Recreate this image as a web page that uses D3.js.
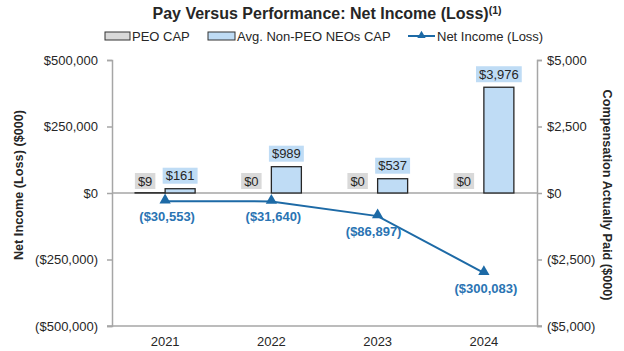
<!DOCTYPE html>
<html>
<head>
<meta charset="utf-8">
<script src="https://cdn.jsdelivr.net/npm/d3@7"></script>
<style>
  body { margin: 0; background: #fff; }
  text { font-family: "Liberation Sans", Arial, sans-serif; }
</style>
</head>
<body>
<svg id="paper"></svg>
<script>
let years = ["2021", "2022", "2023", "2024"];
let peoCap = [9, 0, 0, 0];
let neoCap = [161, 989, 537, 3976];
let netIncome = [-30553, -31640, -86897, -300083];
let leftTicks = [-500000, -250000, 0, 250000, 500000];
let rightTicks = [-5000, -2500, 0, 2500, 5000];

let width = 624, height = 351;
let margin = {top: 60, right: 87, bottom: 25, left: 112};
let lineColor = "#1d6aa6", labelBlue = "#2a74b3";
let grayFill = "#d9d9d9", blueFill = "#bfdcf5";
let axisColor = "#a6a6a6", textColor = "#262626";

let svg = d3.select("#paper").attr("width", width).attr("height", height);

let x = d3.scaleBand().domain(years)
    .range([margin.left, width - margin.right]);
let yL = d3.scaleLinear().domain([-500000, 500000])
    .range([height - margin.bottom, margin.top]);
let yR = d3.scaleLinear().domain([-5000, 5000])
    .range([height - margin.bottom, margin.top]);

let money = v => v < 0 ? "($" + d3.format(",")(-v) + ")" : "$" + d3.format(",")(v);

// title
let title = svg.append("text")
    .attr("x", 327).attr("y", 19)
    .attr("text-anchor", "middle")
    .style("font-size", "16px").style("font-weight", "bold").attr("fill", textColor);
title.append("tspan").text("Pay Versus Performance: Net Income (Loss)");
title.append("tspan").attr("dy", -5).style("font-size", "10.5px").text("(1)");

// legend
let lg = svg.append("g").style("font-size", "13px");
lg.append("rect").attr("x", 105).attr("y", 32).attr("width", 25).attr("height", 8)
    .attr("fill", grayFill).attr("stroke", "#333");
lg.append("text").attr("x", 132).attr("y", 41).attr("fill", textColor).text("PEO CAP");
lg.append("rect").attr("x", 208).attr("y", 32).attr("width", 27).attr("height", 8)
    .attr("fill", blueFill).attr("stroke", "#333");
lg.append("text").attr("x", 237).attr("y", 41).attr("fill", textColor).text("Avg. Non-PEO NEOs CAP");
lg.append("line").attr("x1", 408).attr("x2", 435).attr("y1", 36).attr("y2", 36)
    .attr("stroke", lineColor).attr("stroke-width", 2);
lg.append("path").attr("d", d3.symbol(d3.symbolTriangle, 30)())
    .attr("transform", "translate(421.5,35.5)").attr("fill", lineColor);
lg.append("text").attr("x", 437).attr("y", 41).attr("fill", textColor).text("Net Income (Loss)");

// axes
let leftAxis = svg.append("g")
    .attr("transform", "translate(" + margin.left + ",0)")
    .call(d3.axisLeft(yL).tickValues(leftTicks).tickFormat(money).tickSizeOuter(0).tickSize(5).tickPadding(9));
let rightAxis = svg.append("g")
    .attr("transform", "translate(" + (width - margin.right) + ",0)")
    .call(d3.axisRight(yR).tickValues(rightTicks).tickFormat(money).tickSizeOuter(0).tickSize(5).tickPadding(5));
[leftAxis, rightAxis].forEach(a => {
    a.select(".domain").attr("stroke", axisColor).attr("stroke-width", 1.5);
    a.selectAll(".tick line").attr("stroke", axisColor).attr("stroke-width", 1.5);
    a.selectAll(".tick text").attr("fill", textColor).style("font-size", "13px")
        .style("font-family", "'Liberation Sans', Arial, sans-serif");
});

// zero line and bottom line
[0, -500000].forEach(v => {
    svg.append("line")
        .attr("x1", margin.left - (v === 0 ? 0 : 5)).attr("x2", width - margin.right + (v === 0 ? 0 : 5))
        .attr("y1", yL(v)).attr("y2", yL(v))
        .attr("stroke", axisColor).attr("stroke-width", 1.5);
});

let xAxis = svg.append("g")
    .attr("transform", "translate(0," + (height - margin.bottom) + ")")
    .call(d3.axisBottom(x).tickSize(0).tickPadding(11));
xAxis.select(".domain").remove();
xAxis.selectAll(".tick text").attr("fill", textColor).style("font-size", "13px")
    .style("font-family", "'Liberation Sans', Arial, sans-serif");

// axis titles
svg.append("text")
    .attr("transform", "translate(23,185) rotate(-90)")
    .attr("text-anchor", "middle").style("font-size", "12.7px").style("font-weight", "bold")
    .attr("fill", textColor).text("Net Income (Loss) ($000)");
svg.append("text")
    .attr("transform", "translate(603,195) rotate(90)")
    .attr("text-anchor", "middle").style("font-size", "12.7px").style("font-weight", "bold")
    .attr("fill", textColor).text("Compensation Actually Paid ($000)");

// bars
let barW = 30;
let sub = d3.scaleBand().domain(["peo", "neo"]).range([-barW, barW]);
let barData = [];
years.forEach((yr, i) => {
    barData.push({year: yr, key: "peo", value: peoCap[i]});
    barData.push({year: yr, key: "neo", value: neoCap[i]});
});
svg.append("g").selectAll("rect")
    .data(barData)
    .enter()
    .append("rect")
    .attr("x", d => x(d.year) + x.bandwidth() / 2 + sub(d.key))
    .attr("y", d => yR(d.value))
    .attr("width", sub.bandwidth())
    .attr("height", d => yR(0) - yR(d.value))
    .attr("fill", d => d.key === "peo" ? grayFill : blueFill)
    .attr("stroke", "#262626")
    .attr("stroke-width", 1.3);

// bar labels with boxes
let labels = svg.append("g").style("font-size", "13px");
barData.forEach(d => {
    let cx = x(d.year) + x.bandwidth() / 2 + sub(d.key) + sub.bandwidth() / 2 + (d.key === "peo" ? -5 : 0);
    let cy = d.key === "peo" ? yR(0) - 12 : yR(d.value) - 13;
    let t = labels.append("text").attr("x", cx).attr("y", cy + 4.5)
        .attr("text-anchor", "middle").attr("fill", textColor).text(money(d.value));
    let w = t.node().getComputedTextLength();
    labels.insert("rect", "text")
        .attr("x", cx - w / 2 - 3).attr("y", cy - 8)
        .attr("width", w + 6).attr("height", 16)
        .attr("fill", d.key === "peo" ? grayFill : blueFill);
});

// line
let pts = years.map((yr, i) => ({year: yr, value: netIncome[i]}));
svg.append("path")
    .datum(pts)
    .attr("d", d3.line().x(d => x(d.year) + x.bandwidth() / 2).y(d => yL(d.value)))
    .attr("fill", "none").attr("stroke", lineColor).attr("stroke-width", 2);
svg.append("g").selectAll("path")
    .data(pts)
    .enter()
    .append("path")
    .attr("d", d3.symbol(d3.symbolTriangle, 55)())
    .attr("transform", d => "translate(" + (x(d.year) + x.bandwidth() / 2) + "," + (yL(d.value) - 1) + ")")
    .attr("fill", lineColor);
svg.append("g").selectAll("text")
    .data(pts)
    .enter()
    .append("text")
    .attr("x", d => x(d.year) + x.bandwidth() / 2 + (d.year === "2023" ? -4 : 2))
    .attr("y", d => yL(d.value) + 20)
    .attr("text-anchor", "middle")
    .style("font-size", "13px").style("font-weight", "bold")
    .attr("fill", labelBlue)
    .text(d => money(d.value));
</script>
</body>
</html>
